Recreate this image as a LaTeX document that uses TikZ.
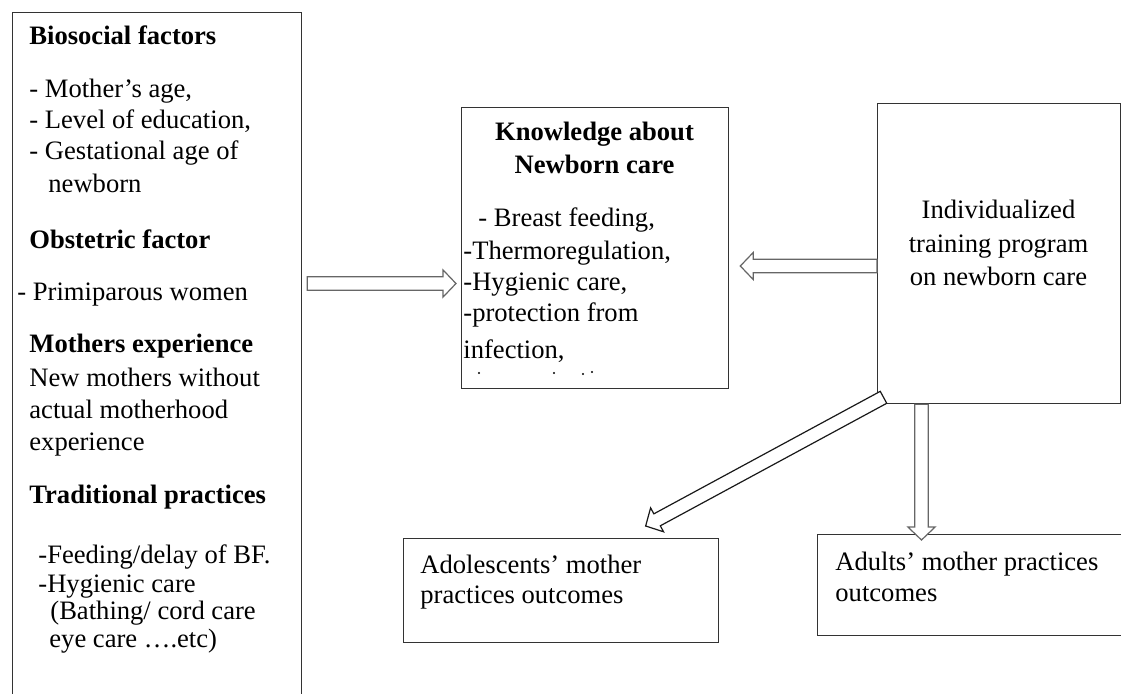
\documentclass[tikz,border=0pt]{standalone}
\usepackage{fontspec}
\setmainfont{Liberation Serif}
\usetikzlibrary{calc}

\tikzset{
  box/.style={draw=black!80, line width=0.65pt, inner sep=0pt, anchor=north west},
  txt/.style={anchor=base west, inner sep=0pt, font=\fontsize{13.3}{15}\selectfont},
  hd/.style={txt, font=\fontsize{13.3}{15}\selectfont\bfseries},
  ctr/.style={txt, anchor=base},
  blk/.style={draw=black!60, line width=0.6pt, fill=white, line join=miter, to path={
    ($(\tikztostart)!3.4pt!90:(\tikztotarget)$)
    -- ($(\tikztotarget)!6.5pt!(\tikztostart)!3.4pt!-90:(\tikztostart)$)
    -- ($(\tikztotarget)!6.5pt!(\tikztostart)!6.8pt!-90:(\tikztostart)$)
    -- (\tikztotarget)
    -- ($(\tikztotarget)!6.5pt!(\tikztostart)!6.8pt!90:(\tikztostart)$)
    -- ($(\tikztotarget)!6.5pt!(\tikztostart)!3.4pt!90:(\tikztostart)$)
    -- ($(\tikztostart)!3.4pt!-90:(\tikztotarget)$)
    -- cycle}},
}

\begin{document}
\begin{tikzpicture}[x=0.5pt, y=-0.5pt]
  \useasboundingbox (0,0) rectangle (1121,693);

  \node[box, minimum width=144.5pt, minimum height=349pt] (lft) at (12,12) {};
  \node[box, minimum width=133.5pt, minimum height=140.5pt] (kn) at (461,107) {};
  \node[box, minimum width=121.5pt, minimum height=150pt] (tr) at (877,103) {};
  \node[box, minimum width=157.5pt, minimum height=52pt] (ado) at (403,538) {};
  \node[box, minimum width=154pt, minimum height=50.5pt] (ad) at (817,534) {};

  \node[hd] (b1) at (29,44) {Biosocial factors};
  \node[txt] (b2) at (29,97) {- Mother’s age,};
  \node[txt] (b3) at (29,128) {- Level of education,};
  \node[txt] (b4) at (29,159) {- Gestational age of};
  \node[txt] (b5) at (48,192) {newborn};
  \node[hd] (o1) at (29,248) {Obstetric factor};
  \node[txt] (o2) at (17,300) {- Primiparous women};
  \node[hd] (m1) at (29,352) {Mothers experience};
  \node[txt] (m2) at (29,386) {New mothers without};
  \node[txt] (m3) at (29,418) {actual motherhood};
  \node[txt] (m4) at (29,450) {experience};
  \node[hd] (p1) at (29,503) {Traditional practices};
  \node[txt] (p2) at (38,563) {-Feeding/delay of BF.};
  \node[txt] (p3) at (38,592) {-Hygienic care};
  \node[txt] (p4) at (50,619) {(Bathing/ cord care};
  \node[txt] (p5) at (49,647) {eye care ….etc)};

  \node[hd, anchor=base] (k1) at (594.5,140) {Knowledge about};
  \node[hd, anchor=base] (k2) at (594.5,173) {Newborn care};
  \node[txt] (k3) at (478,226) {- Breast feeding,};
  \node[txt] (k4) at (463,259) {-Thermoregulation,};
  \node[txt] (k5) at (463,290) {-Hygienic care,};
  \node[txt] (k6) at (463,321) {-protection from};
  \node[txt] (k7) at (463,358) {infection,};
  \fill (479,373) circle (0.6pt) (554,373) circle (0.6pt)
        (583,374) circle (0.6pt) (592,372) circle (0.6pt);

  \node[ctr] (t1) at (998.5,218) {Individualized};
  \node[ctr] (t2) at (998.5,252) {training program};
  \node[ctr] (t3) at (998.5,285) {on newborn care};

  \node[txt] (a1) at (420,573) {Adolescents’ mother};
  \node[txt] (a2) at (420,603) {practices outcomes};
  \node[txt] (d1) at (835,570) {Adults’ mother practices};
  \node[txt] (d2) at (835,601) {outcomes};

  \draw[blk] ($(lft.north east)+(5,271.5)$) to ($(kn.north west)+(-5,176.5)$);
  \draw[blk] ($(tr.north west)+(0,163)$) to ($(kn.north east)+(11,159)$);
  \draw[blk, draw=black!90] ($(tr.south west)+(6.5,-7)$) to ($(ado.north)+(84.5,-12)$);
  \draw[blk] ($(tr.south west)+(44.5,0)$) to ($(ad.north west)+(104.5,6)$);
\end{tikzpicture}
\end{document}
